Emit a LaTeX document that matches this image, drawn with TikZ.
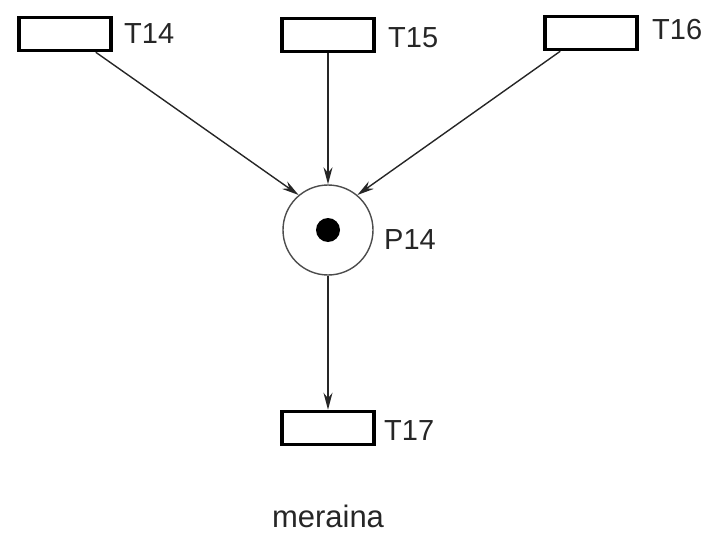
\documentclass[tikz,border=0pt]{standalone}
\usepackage{fontspec}
\setmainfont{Liberation Sans}
\usetikzlibrary{arrows.meta}
\begin{document}
\begin{tikzpicture}[x=1pt,y=-1pt,
  trans/.style={draw=black, line width=3.5pt, rectangle, minimum width=92pt, minimum height=33pt, inner sep=0pt},
  place/.style={draw=black!70, line width=1.4pt, circle, minimum size=90pt, inner sep=0pt},
  token/.style={fill=black, circle, minimum size=24pt, inner sep=0pt},
  lbl/.style={font=\fontsize{29}{34}\selectfont, text=black!85, inner sep=0pt, anchor=west},
  arc/.style={draw=black!85, line width=1.4pt, -{Stealth[length=17pt,width=9pt]}}]
  \useasboundingbox (0,0) rectangle (713,535);
  % transitions
  \node[trans] (t14) at (65,34) {};
  \node[trans] (t15) at (328,35) {};
  \node[trans] (t16) at (591,33) {};
  \node[trans] (t17) at (328,428) {};
  \node[lbl] (l14) at (124,34) {T14};
  \node[lbl] (l15) at (388,38) {T15};
  \node[lbl] (l16) at (652,30) {T16};
  \node[lbl] (l17) at (384,431) {T17};
  % place with its token
  \node[place] (p14) at (328,230) {};
  \node[token] (tok) at (328,230) {};
  \node[lbl] (lp) at (384,240) {P14};
  % arcs
  \draw[arc] (t14.south east) ++(-17,0) coordinate (a14) (a14) -- (p14.130);
  \draw[arc] (t15.south) -- (p14.north);
  \draw[arc] (t16.south west) ++(17,0) coordinate (a16) (a16) -- (p14.50);
  \draw[arc] (p14.south) -- (t17.north);
  % caption
  \node[font=\fontsize{31}{36}\selectfont, text=black!85, inner sep=0pt] (cap) at (328,516) {meraina};
\end{tikzpicture}
\end{document}
